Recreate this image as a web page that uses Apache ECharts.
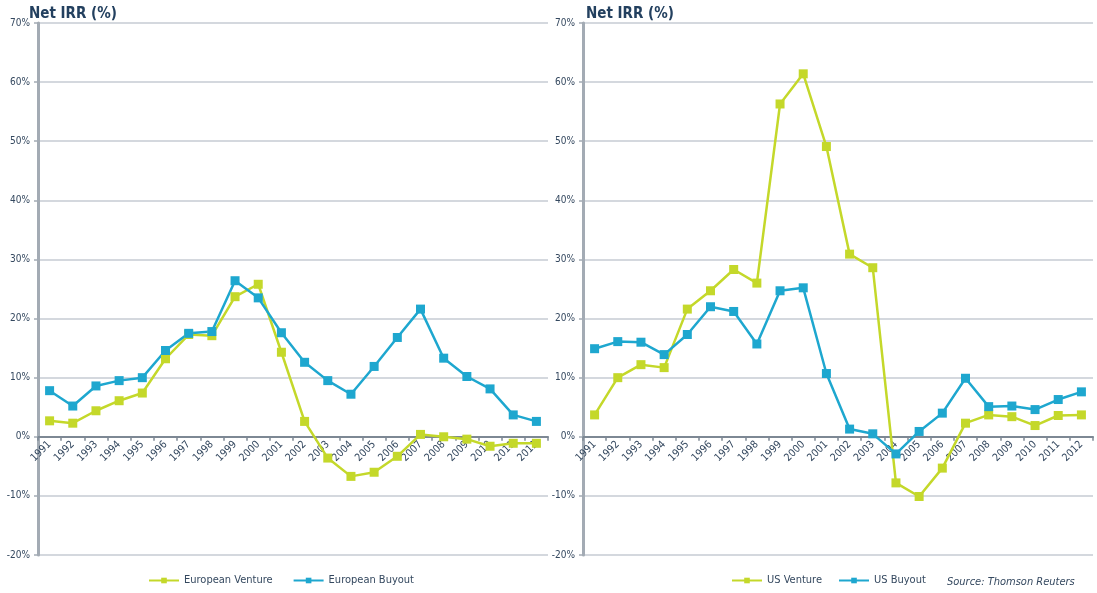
<!DOCTYPE html>
<html>
<head>
<meta charset="utf-8">
<title>Net IRR</title>
<script src="https://cdn.jsdelivr.net/npm/echarts@6/dist/echarts.min.js"></script>
<style>
  html, body { margin: 0; padding: 0; background: #fff; }
  #myChart { width: 1097px; height: 593px; }
</style>
</head>
<body>
<div id="myChart"></div>
<script>
const years = ["1991","1992","1993","1994","1995","1996","1997","1998","1999","2000","2001",
  "2002","2003","2004","2005","2006","2007","2008","2009","2010","2011","2012"];
const euVenture = [2.7,2.3,4.4,6.1,7.4,13.2,17.3,17.1,23.7,25.8,14.3,2.6,-3.6,-6.7,-6.0,-3.3,0.4,0.0,-0.4,-1.6,-1.1,-1.1];
const euBuyout = [7.8,5.2,8.6,9.5,10.0,14.6,17.5,17.8,26.4,23.5,17.6,12.6,9.5,7.2,11.9,16.8,21.6,13.3,10.2,8.1,3.7,2.6];
const usVenture = [3.7,10.0,12.2,11.7,21.6,24.7,28.3,26.0,56.3,61.4,49.1,30.9,28.6,-7.8,-10.1,-5.3,2.3,3.7,3.4,1.9,3.6,3.7];
const usBuyout = [14.9,16.1,16.0,13.9,17.3,22.0,21.2,15.7,24.7,25.2,10.7,1.3,0.5,-2.9,0.9,4.0,9.9,5.1,5.2,4.6,6.3,7.6];

const ventureColor = "#c4d82a";
const buyoutColor = "#1ea7cf";
const textColor = "#34485f";
const font = "DejaVu Sans Condensed";

// plot area: 23px top, 38px bottom, y from -20 to 70 -> zero line sits 20/90 above the bottom
const gridTop = 23, gridBottom = 38, chartHeight = 593;
const zeroOffset = -((chartHeight - gridTop - gridBottom) * 20 / 90);

function xAxis(gridIndex) {
  return {
    type: "category",
    gridIndex: gridIndex,
    data: years,
    boundaryGap: true,
    offset: zeroOffset,
    axisLine: { onZero: false, lineStyle: { color: "#7d8894", width: 2 } },
    axisTick: { show: true, length: 4, lineStyle: { color: "#7d8894", width: 1.5 } },
    axisLabel: {
      interval: 0,
      rotate: 45,
      margin: 6,
      fontSize: 10.5,
      fontFamily: font,
      color: textColor
    }
  };
}

function yAxis(gridIndex) {
  return {
    type: "value",
    gridIndex: gridIndex,
    min: -20,
    max: 70,
    interval: 10,
    axisLine: { show: true, lineStyle: { color: "#a3abb4", width: 3 } },
    axisTick: { show: true, length: 4, lineStyle: { color: "#a3abb4", width: 1.5 } },
    splitLine: { lineStyle: { color: "#c6cbd3", width: 1.5 } },
    axisLabel: {
      formatter: "{value}%",
      margin: 8,
      fontSize: 10,
      fontFamily: font,
      color: textColor
    }
  };
}

function line(name, data, color, idx) {
  return {
    name: name,
    type: "line",
    xAxisIndex: idx,
    yAxisIndex: idx,
    data: data,
    symbol: "rect",
    symbolSize: 9,
    showAllSymbol: true,
    lineStyle: { color: color, width: 2.5 },
    itemStyle: { color: color },
    emphasis: { disabled: true }
  };
}

const myChart = echarts.init(document.getElementById("myChart"));
myChart.setOption({
  animation: false,
  title: [
    {
      text: "Net IRR (%)",
      left: 24,
      top: 2,
      textStyle: { fontSize: 15, fontFamily: font, fontWeight: "bold", color: "#23405f" }
    },
    {
      text: "Net IRR (%)",
      left: 581,
      top: 2,
      textStyle: { fontSize: 15, fontFamily: font, fontWeight: "bold", color: "#23405f" }
    }
  ],
  grid: [
    { left: 38, right: 549, top: gridTop, bottom: gridBottom },
    { left: 583, right: 4, top: gridTop, bottom: gridBottom }
  ],
  xAxis: [xAxis(0), xAxis(1)],
  yAxis: [yAxis(0), yAxis(1)],
  legend: [
    {
      data: ["European Venture", "European Buyout"],
      left: 143,
      top: 570,
      itemWidth: 30,
      itemHeight: 7,
      itemGap: 20,
      textStyle: { fontSize: 11, fontFamily: font, color: textColor }
    },
    {
      data: ["US Venture", "US Buyout"],
      left: 726,
      top: 570,
      itemWidth: 30,
      itemHeight: 7,
      itemGap: 16,
      textStyle: { fontSize: 11, fontFamily: font, color: textColor }
    }
  ],
  graphic: [
    {
      type: "text",
      left: 947,
      top: 577,
      style: {
        text: "Source: Thomson Reuters",
        font: "italic 11px '" + font + "'",
        fill: textColor
      }
    }
  ],
  series: [
    line("European Venture", euVenture, ventureColor, 0),
    line("European Buyout", euBuyout, buyoutColor, 0),
    line("US Venture", usVenture, ventureColor, 1),
    line("US Buyout", usBuyout, buyoutColor, 1)
  ]
});
</script>
</body>
</html>
